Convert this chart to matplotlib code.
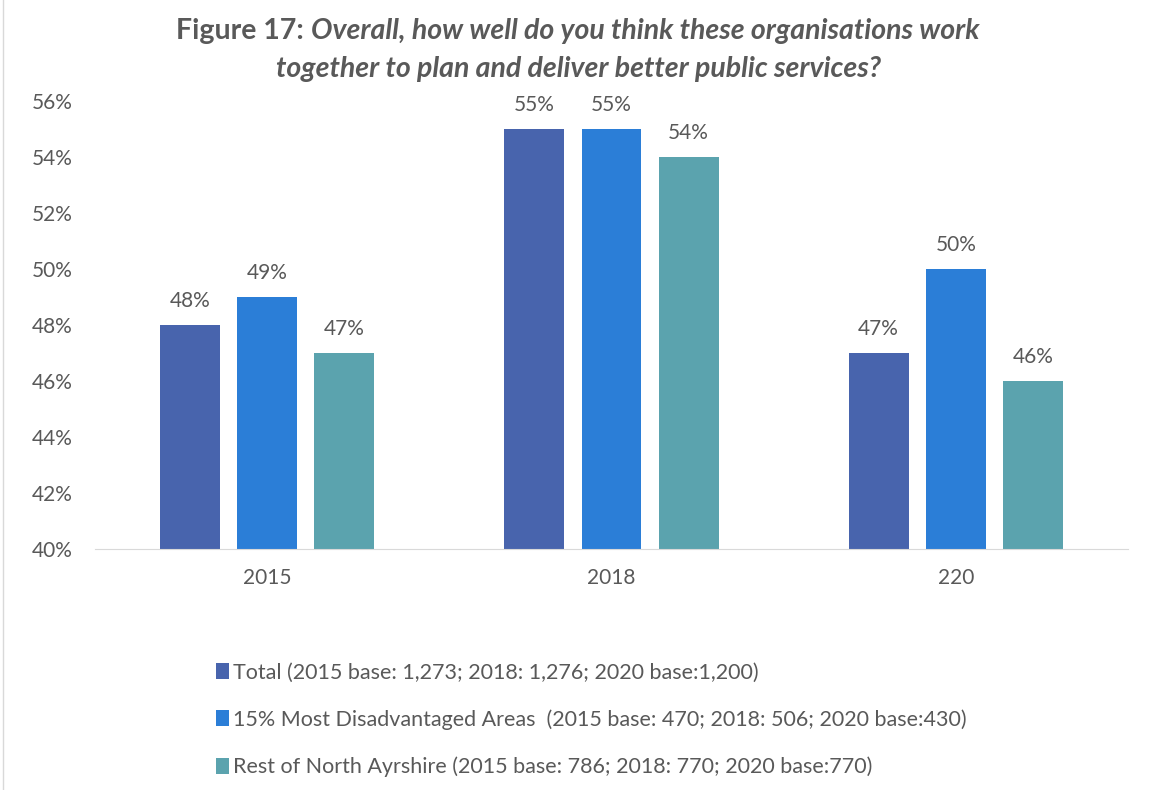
import numpy as np
import matplotlib.pyplot as plt
from matplotlib.lines import Line2D

plt.rcParams['font.family'] = ['Lato', 'DejaVu Sans']

years = ['2015', '2018', '220']
series = [
    'Total (2015 base: 1,273; 2018: 1,276; 2020 base:1,200)',
    '15% Most Disadvantaged Areas  (2015 base: 470; 2018: 506; 2020 base:430)',
    'Rest of North Ayrshire (2015 base: 786; 2018: 770; 2020 base:770)',
]
total = [48, 55, 47]
disadvantaged = [49, 55, 50]
rest = [47, 54, 46]
colors = ['#4864AD', '#2B7ED7', '#5BA3AE']

text_col = '#595959'

fig = plt.figure(figsize=(11.49, 7.90), dpi=100)
ax = fig.add_axes([95 / 1149, 1 - 549 / 790, (1128 - 95) / 1149, (549 - 101) / 790])

x = np.arange(len(years))
w = 0.174
step = 0.224
for i, (vals, lab) in enumerate(zip([total, disadvantaged, rest], series)):
    pos = x + (i - 1) * step
    bars = ax.bar(pos, np.array(vals) - 40, width=w, bottom=40, color=colors[i], label=lab)
    for px, v in zip(pos, vals):
        ax.text(px, v + 0.5, f'{v}%', ha='center', va='bottom', fontsize=15, color=text_col)

ax.set_xlim(-0.5, 2.5)
ax.set_ylim(40, 56)
ax.set_yticks(range(40, 57, 2))
ax.set_yticklabels([f'{t}%' for t in range(40, 57, 2)])
ax.set_xticks(x)
ax.set_xticklabels(years)
ax.tick_params(length=0, labelsize=15, colors=text_col)
ax.tick_params(axis='y', pad=16)
ax.tick_params(axis='x', pad=14)
for s in ['top', 'right', 'left']:
    ax.spines[s].set_visible(False)
ax.spines['bottom'].set_color('#D9D9D9')

leg = fig.legend(loc='upper left', bbox_to_anchor=(197 / 1149, 1 - 643 / 790), frameon=False,
                 fontsize=15.5, handlelength=0.6, handleheight=0.75, handletextpad=0.15,
                 labelspacing=1.25, labelcolor=text_col)

# title: bold prefix + bold italic question
fig.canvas.draw()
r = fig.canvas.get_renderer()
tsize = 20.5
t1 = fig.text(0, 1 - 31 / 790, 'Figure 17: ', fontsize=tsize, fontweight='bold', color=text_col, va='center')
t2 = fig.text(0, 1 - 31 / 790, 'Overall, how well do you think these organisations work',
              fontsize=tsize, fontweight='bold', fontstyle='italic', color=text_col, va='center')
w1 = t1.get_window_extent(r).width
w2 = t2.get_window_extent(r).width
cx = 578
start = cx - (w1 + w2) / 2
t1.set_x(start / 1149)
t2.set_x((start + w1) / 1149)
fig.text(cx / 1149, 1 - 69 / 790, 'together to plan and deliver better public services?',
         fontsize=tsize, fontweight='bold', fontstyle='italic', color=text_col, ha='center', va='center')

fig.add_artist(Line2D([3 / 1149, 3 / 1149], [0, 1], transform=fig.transFigure, color='#D9D9D9', lw=1))

fig.savefig('out.png', dpi=100)
